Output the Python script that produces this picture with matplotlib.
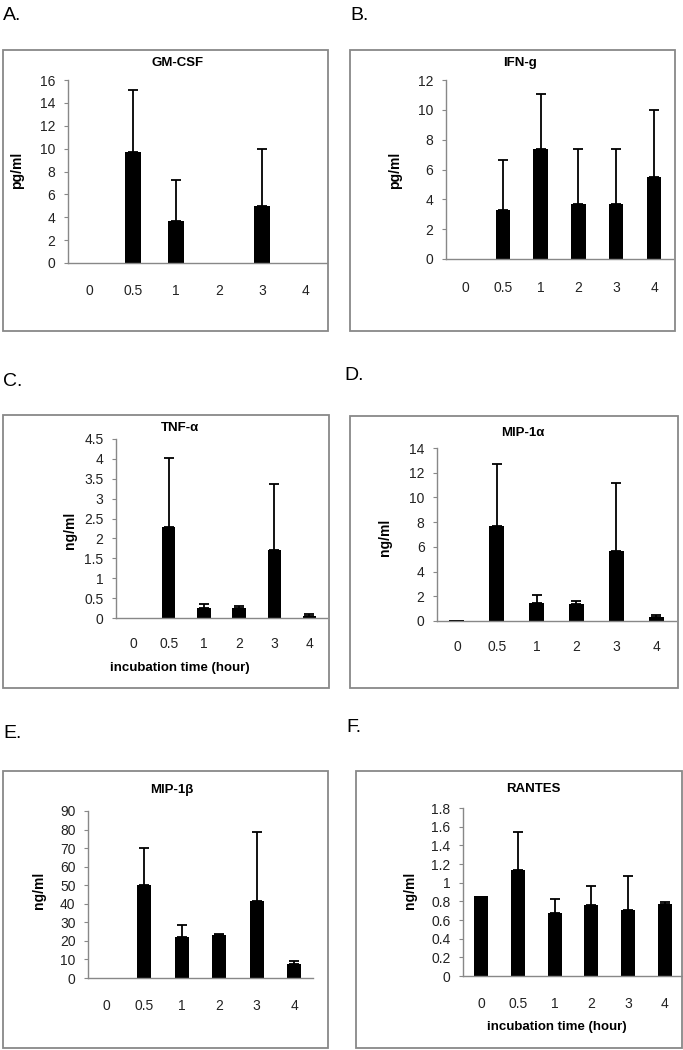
import matplotlib.pyplot as plt
import matplotlib.patches as patches
import numpy as np

plt.rcParams['font.family'] = ['Liberation Sans', 'DejaVu Sans']

times = ['0', '0.5', '1', '2', '3', '4']

# mean values and upper error (SD) for each cytokine
gmcsf = [0, 9.7, 3.7, 0, 5.0, 0]
gmcsf_err = [0, 5.4, 3.6, 0, 5.0, 0]
ifng = [0, 3.3, 7.35, 3.7, 3.7, 5.5]
ifng_err = [0, 3.35, 3.7, 3.65, 3.65, 4.5]
tnfa = [0.01, 2.28, 0.25, 0.24, 1.7, 0.06]
tnfa_err = [0, 1.75, 0.09, 0.06, 1.68, 0.04]
mip1a = [0.05, 7.7, 1.45, 1.4, 5.65, 0.35]
mip1a_err = [0, 5.0, 0.65, 0.2, 5.5, 0.1]
mip1b = [0, 50, 22, 23, 41.5, 7.5]
mip1b_err = [0, 20, 6.5, 0.5, 37, 1.8]
rantes = [0.86, 1.14, 0.68, 0.76, 0.71, 0.77]
rantes_err = [0, 0.40, 0.14, 0.20, 0.36, 0.02]

W, H = 683, 1050
fig = plt.figure(figsize=(W / 100, H / 100), dpi=100)

def fx(x):
    return x / W

def fy(y):
    return 1 - y / H

# layout in pixels: box = frame, ax = (left, top, right, bottom) of plot area
panels = [
    dict(label='A.', lpos=(3, 16), box=(3, 50, 328, 331), ax=(68, 80, 327, 263),
         title='GM-CSF', tpos=(178, 63), ylab='pg/ml', ypos=(17, 170),
         ymax=16, step=2, vals=gmcsf, err=gmcsf_err, pad=15, xlab=None),
    dict(label='B.', lpos=(350, 16), box=(350, 50, 675, 331), ax=(446, 80, 673, 259),
         title='IFN-g', tpos=(520, 63), ylab='pg/ml', ypos=(395, 170),
         ymax=12, step=2, vals=ifng, err=ifng_err, pad=15.5, xlab=None),
    dict(label='C.', lpos=(3, 381), box=(3, 415, 329, 688), ax=(116, 439, 327, 618),
         title='TNF-α', tpos=(180, 428), ylab='ng/ml', ypos=(70, 530),
         ymax=4.5, step=0.5, vals=tnfa, err=tnfa_err, pad=14, xlab=(180, 668)),
    dict(label='D.', lpos=(344, 375), box=(350, 416, 678, 688), ax=(437, 448, 676, 621),
         title='MIP-1α', tpos=(523, 433), ylab='ng/ml', ypos=(385, 537),
         ymax=14, step=2, vals=mip1a, err=mip1a_err, pad=13.5, xlab=None),
    dict(label='E.', lpos=(3, 734), box=(3, 771, 328, 1048), ax=(88, 811, 313, 978),
         title='MIP-1β', tpos=(172, 790), ylab='ng/ml', ypos=(39, 890),
         ymax=90, step=10, vals=mip1b, err=mip1b_err, pad=15, xlab=None),
    dict(label='F.', lpos=(346, 727), box=(356, 771, 682, 1048), ax=(463, 808, 683, 976),
         title='RANTES', tpos=(533, 789), ylab='ng/ml', ypos=(410, 890),
         ymax=1.8, step=0.2, vals=rantes, err=rantes_err, pad=15, xlab=(557, 1027)),
]

for p in panels:
    # panel letter
    fig.text(fx(p['lpos'][0]), fy(p['lpos'][1]), p['label'], fontsize=14,
             ha='left', va='center')
    # frame around each chart
    x0, y0, x1, y1 = p['box']
    fig.add_artist(patches.Rectangle((fx(x0), fy(y1)), fx(x1 - x0), (y1 - y0) / H,
                                     fill=False, edgecolor='#888888', linewidth=1.3))

    l, t, r, b = p['ax']
    ax = fig.add_axes([fx(l), fy(b), fx(r - l), (b - t) / H])
    x = np.arange(len(times))
    vals = np.array(p['vals'])
    err = np.array(p['err'])
    ax.bar(x, vals, width=0.38, color='black')
    m = err > 0
    ax.errorbar(x[m], vals[m], yerr=[np.zeros(m.sum()), err[m]], fmt='none',
                ecolor='black', elinewidth=1.3, capsize=3.5, capthick=1.3)

    ax.set_xlim(-0.5, len(times) - 0.5)
    ax.set_ylim(0, p['ymax'])
    ticks = np.arange(0, p['ymax'] + p['step'] / 2, p['step'])
    ax.set_yticks(ticks)
    ax.set_yticklabels(['%g' % v for v in ticks])
    ax.set_xticks(x)
    ax.set_xticklabels(times)
    for s in ['top', 'right']:
        ax.spines[s].set_visible(False)
    for s in ['left', 'bottom']:
        ax.spines[s].set_color('#888888')
        ax.spines[s].set_linewidth(1.0)
    ax.tick_params(axis='y', length=3, color='#888888', labelsize=10,
                   labelcolor='#222222', pad=6)
    ax.tick_params(axis='x', length=0, labelsize=10, labelcolor='#222222', pad=p['pad'])
    ax.patch.set_alpha(0)

    fig.text(fx(p['tpos'][0]), fy(p['tpos'][1]), p['title'], fontsize=9.5,
             fontweight='bold', ha='center', va='center')
    fig.text(fx(p['ypos'][0]), fy(p['ypos'][1]), p['ylab'], fontsize=10,
             fontweight='bold', ha='center', va='center', rotation=90)
    if p['xlab']:
        fig.text(fx(p['xlab'][0]), fy(p['xlab'][1]), 'incubation time (hour)',
                 fontsize=9.5, fontweight='bold', ha='center', va='center')

fig.savefig('out.png', dpi=100)
